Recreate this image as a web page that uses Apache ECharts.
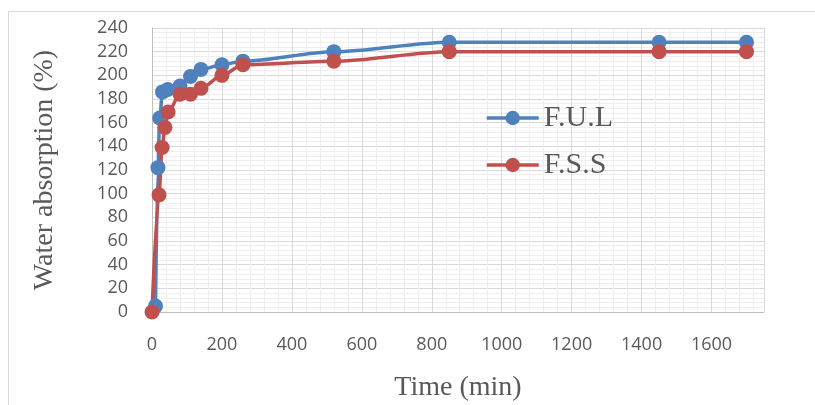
<!DOCTYPE html>
<html>
<head>
<meta charset="utf-8">
<script src="https://cdn.jsdelivr.net/npm/echarts@6/dist/echarts.min.js"></script>
<style>html,body{margin:0;padding:0;background:#fff;}#c{width:815px;height:405px;}</style>
</head>
<body>
<div id="c"></div>
<script>
var fulTime = [10, 17, 22, 30, 45, 80, 110, 140, 200, 260, 520, 850, 1450, 1700];
var fulValue = [5, 122, 164, 186, 188, 191, 199, 205, 209, 212, 220, 228, 228, 228];
var fssTime = [0, 20, 29, 37, 46, 80, 110, 140, 200, 260, 520, 850, 1450, 1700];
var fssValue = [0, 99, 139, 156, 169, 184, 184, 189, 200, 209, 212, 220, 220, 220];
var xTicks = [0, 200, 400, 600, 800, 1000, 1200, 1400, 1600];
var yTicks = [0, 20, 40, 60, 80, 100, 120, 140, 160, 180, 200, 220, 240];

function pairs(xs, ys) { return xs.map(function (x, i) { return [x, ys[i]]; }); }

var chart = echarts.init(document.getElementById('c'));
var labelFont = {color: '#595959', fontFamily: 'Open Sans', fontSize: 18};
chart.setOption({
  animation: false,
  graphic: [{type: 'rect', shape: {x: 8.5, y: 11.5, width: 900, height: 500}, style: {fill: 'none', stroke: '#d9d9d9', lineWidth: 1}, z: -10}],
  grid: {left: 152, top: 28, right: 51, bottom: 93, outerBoundsMode: 'none', containLabel: false},
  legend: {
    orient: 'vertical', left: 480, top: 97, itemWidth: 52, itemHeight: 18, itemGap: 15, itemTextGap: 6,
    lineStyle: {width: 3.5},
    textStyle: {fontFamily: 'Liberation Serif', fontSize: 30, color: '#595959', lineHeight: 32},
    data: ['F.U.L', 'F.S.S']
  },
  xAxis: {
    type: 'value', min: 0, max: 1750, interval: 200,
    name: 'Time (min)', nameLocation: 'middle', nameGap: 62,
    nameTextStyle: {fontFamily: 'Liberation Serif', fontSize: 28, color: '#595959'},
    axisLine: {show: true, lineStyle: {color: '#bfbfbf', width: 1}},
    axisTick: {show: false},
    axisLabel: Object.assign({margin: 24, showMaxLabel: false, formatter: function (v) { return xTicks.indexOf(v) >= 0 ? String(v) : ''; }}, labelFont),
    splitLine: {show: true, lineStyle: {color: '#d9d9d9', width: 1}},
    minorTick: {show: false, splitNumber: 5},
    minorSplitLine: {show: true, lineStyle: {color: '#eeeeee', width: 1}}
  },
  yAxis: {
    type: 'value', min: 0, max: 240, interval: 20,
    name: 'Water absorption (%)', nameLocation: 'middle', nameGap: 93, nameRotate: 90,
    nameTextStyle: {fontFamily: 'Liberation Serif', fontSize: 28, color: '#595959'},
    axisLine: {show: true, lineStyle: {color: '#bfbfbf', width: 1}},
    axisTick: {show: false},
    axisLabel: Object.assign({margin: 24, formatter: function (v) { return yTicks.indexOf(v) >= 0 ? String(v) : ''; }}, labelFont),
    splitLine: {show: true, lineStyle: {color: '#d9d9d9', width: 1}},
    minorTick: {show: false, splitNumber: 5},
    minorSplitLine: {show: true, lineStyle: {color: '#eeeeee', width: 1}}
  },
  series: [
    {name: 'F.U.L', type: 'line', data: pairs(fulTime, fulValue), smooth: 0.3, smoothMonotone: 'x',
     symbol: 'circle', symbolSize: 15, color: '#4F81BD', lineStyle: {width: 3.5, color: '#4F81BD'}, itemStyle: {color: '#4F81BD'}},
    {name: 'F.S.S', type: 'line', data: pairs(fssTime, fssValue), smooth: 0.3, smoothMonotone: 'x',
     symbol: 'circle', symbolSize: 15, color: '#C0504D', lineStyle: {width: 3.5, color: '#C0504D'}, itemStyle: {color: '#C0504D'}}
  ]
});
</script>
</body>
</html>
